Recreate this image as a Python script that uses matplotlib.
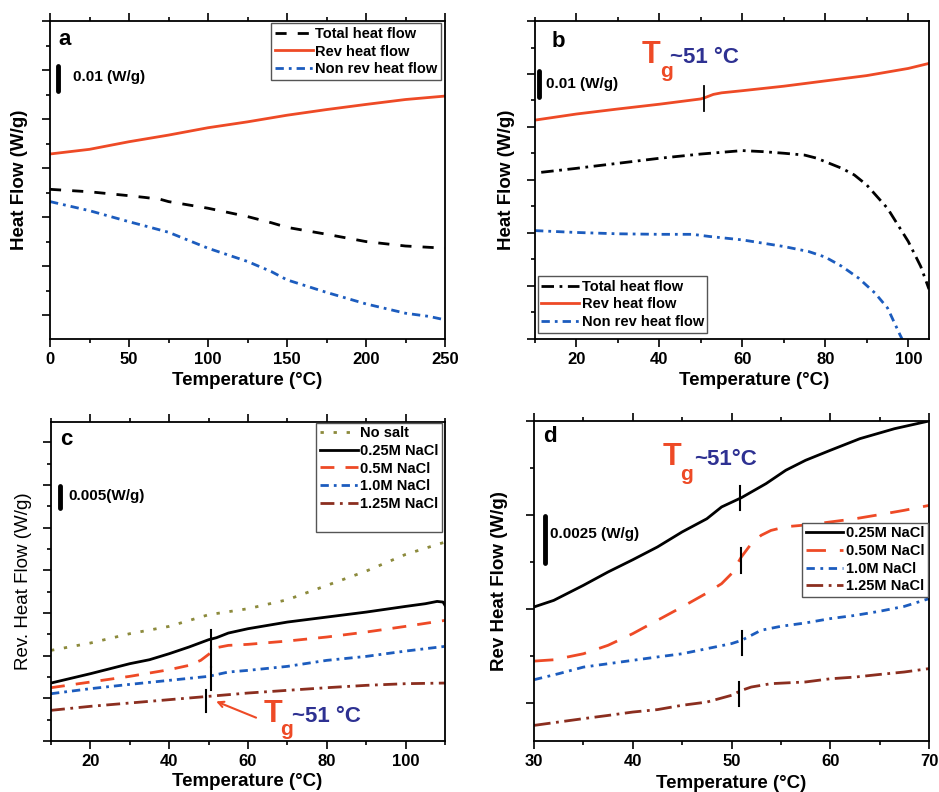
import matplotlib
matplotlib.use("Agg")
import matplotlib.pyplot as plt
from matplotlib.ticker import MultipleLocator, NullFormatter

plt.rcParams['font.family'] = ['Liberation Sans', 'DejaVu Sans']
plt.rcParams['font.weight'] = 'bold'

RED = '#EE4A26'
BLUE = '#1C5CBE'
OLIVE = '#8C8A3C'
BROWN = '#8B2E1F'
NAVY = '#2E3192'

# ---- panel a : heat flow vs temperature (W/g, shifted) ----
a_temp = [0, 25, 50, 75, 100, 125, 150, 175, 200, 225, 250]
a_rev = [0.0858, 0.0877, 0.0908, 0.0935, 0.0965, 0.0989, 0.1016, 0.1039, 0.1060, 0.1080, 0.1094]
a_tot_temp = [0, 25, 50, 60, 70, 75, 100, 125, 140, 150, 175, 200, 225, 250]
a_total = [0.0714, 0.0704, 0.0688, 0.0681, 0.0673, 0.0664, 0.0637, 0.0603, 0.0578, 0.0559,
           0.0531, 0.0501, 0.0483, 0.0474]
a_non_temp = [0, 25, 50, 60, 75, 100, 125, 140, 150, 175, 200, 225, 240, 250]
a_nonrev = [0.0664, 0.0627, 0.0582, 0.0565, 0.0539, 0.0474, 0.0420, 0.0379, 0.0345, 0.0294,
            0.0247, 0.0209, 0.0196, 0.0182]

# ---- panel b ----
b_rev_temp = [10, 20, 30, 40, 50, 51, 53, 55, 60, 70, 80, 90, 100, 105]
b_rev = [0.0826, 0.0849, 0.0868, 0.0886, 0.0906, 0.0911, 0.0923, 0.0929, 0.0937, 0.0954,
         0.0974, 0.0994, 0.1021, 0.1040]
b_tot_temp = [11.5, 20, 22, 30, 40, 50, 60, 65, 70, 75, 78, 80, 84, 87, 90, 95, 100, 103, 105]
b_total = [0.0629, 0.0644, 0.0648, 0.0663, 0.0682, 0.0698, 0.0711, 0.0707, 0.0701, 0.0694,
           0.0682, 0.0669, 0.0644, 0.0619, 0.0581, 0.0493, 0.0368, 0.0274, 0.0188]
b_non_temp = [10, 20, 30, 40, 48, 52, 60, 70, 76, 80, 84, 88, 92, 95, 98, 99]
b_nonrev = [0.0409, 0.0402, 0.0397, 0.0395, 0.0395, 0.0387, 0.0374, 0.0349, 0.0330, 0.0309,
            0.0274, 0.0230, 0.0173, 0.0117, 0.0016, -0.0015]

# ---- panel c : reversing heat flow, salt series ----
c_temp = [10, 20, 30, 40, 50, 60, 70, 80, 90, 100, 110]
c_nosalt = [0.02125, 0.02297, 0.02516, 0.02688, 0.02961, 0.03102, 0.03313, 0.03648, 0.03984,
            0.04375, 0.04664]
c_025_temp = [10, 20, 30, 35, 40, 45, 50, 52, 55, 60, 70, 80, 90, 100, 105, 108, 109.5, 110]
c_025 = [0.01359, 0.01578, 0.01813, 0.01906, 0.02047, 0.02203, 0.02375, 0.02422, 0.02531,
         0.02633, 0.02789, 0.02906, 0.03023, 0.03156, 0.03219, 0.03273, 0.03258, 0.0318]
c_05_temp = [10, 20, 30, 40, 45, 48, 50, 52, 55, 60, 70, 80, 90, 100, 110]
c_05 = [0.0125, 0.01383, 0.01516, 0.01672, 0.01773, 0.01891, 0.02031, 0.02188, 0.02242,
        0.02266, 0.02344, 0.02438, 0.02555, 0.02688, 0.02828]
c_10_temp = [10, 20, 30, 40, 50, 55, 60, 70, 80, 90, 100, 110]
c_10 = [0.01109, 0.01227, 0.01328, 0.01422, 0.01516, 0.01617, 0.01656, 0.0175, 0.01891,
        0.01984, 0.02109, 0.02219]
c_125_temp = [10, 20, 30, 40, 50, 55, 60, 70, 80, 90, 100, 110]
c_125 = [0.00719, 0.00813, 0.00891, 0.00969, 0.01047, 0.01086, 0.01125, 0.01188, 0.0125,
         0.01305, 0.01344, 0.01359]
c_tg_x = [50.6, 50.5, 50.5, 49.4]
c_tg_lo = [0.02164, 0.01734, 0.01188, 0.0068]
c_tg_hi = [0.02594, 0.02164, 0.01734, 0.01188]

# ---- panel d ----
d_025_temp = [30, 32, 35, 37.5, 40, 42.5, 45, 47.5, 49, 51, 53.5, 55.5, 57.5, 60, 63, 66.5, 70]
d_025 = [0.01011, 0.01046, 0.01126, 0.01197, 0.01262, 0.01330, 0.01410, 0.01480, 0.01543,
         0.01592, 0.01667, 0.01738, 0.01791, 0.01844, 0.01906, 0.01959, 0.0200]
d_050_temp = [30, 32, 35, 37.5, 40, 42.5, 45, 47.5, 49, 50, 51, 52, 53, 54, 55, 56, 58, 60,
              62.5, 65, 67.5, 70]
d_050 = [0.00723, 0.0073, 0.00762, 0.00807, 0.00869, 0.0094, 0.01011, 0.01085, 0.01135,
         0.01188, 0.01277, 0.01347, 0.01392, 0.01418, 0.01431, 0.0144, 0.01449, 0.01463,
         0.0148, 0.01502, 0.01525, 0.01551]
d_10_temp = [30, 32.5, 35, 37.5, 40, 42.5, 45, 47.5, 50, 51, 52, 53, 55, 57.5, 60, 62.5, 65,
             67.5, 70]
d_10 = [0.00624, 0.00656, 0.00691, 0.00709, 0.00727, 0.00745, 0.00762, 0.00789, 0.00816,
        0.00833, 0.0086, 0.00887, 0.00908, 0.00926, 0.00949, 0.00966, 0.00988, 0.01014, 0.01055]
d_125_temp = [30, 32.5, 35, 37.5, 40, 42.5, 45, 47.5, 50, 51, 52, 54, 57.5, 60, 62.5, 65,
              67.5, 70]
d_125 = [0.00381, 0.00399, 0.00417, 0.00434, 0.00452, 0.00465, 0.00488, 0.00505, 0.00541,
         0.00567, 0.00585, 0.00603, 0.00612, 0.00629, 0.00638, 0.00652, 0.00665, 0.00683]
d_tg_x = [50.9, 51.0, 51.1, 50.8]
d_tg_lo = [0.01528, 0.01193, 0.00754, 0.00482]
d_tg_hi = [0.01652, 0.01324, 0.00881, 0.00612]

LW = 2.0
W, H = 939, 792
fig = plt.figure(figsize=(W / 100, H / 100), dpi=100)


def make_ax(left, right, top, bottom):
    ax = fig.add_axes([left / W, 1 - bottom / H, (right - left) / W, (bottom - top) / H])
    ax.tick_params(which='both', direction='out', top=True, right=False,
                   labelleft=False, labelsize=12, width=1.2, pad=4)
    ax.tick_params(which='major', length=5.5)
    ax.tick_params(which='minor', length=3)
    ax.yaxis.set_minor_formatter(NullFormatter())
    for sp in ax.spines.values():
        sp.set_linewidth(1.3)
    return ax


def style_legend(leg):
    leg.get_frame().set_edgecolor('#555555')
    leg.get_frame().set_linewidth(1.0)


def scale_bar(ax, x, y0, y1, text, tx, ty):
    ax.plot([x, x], [y0, y1], color='black', lw=3.5, solid_capstyle='round')
    ax.text(tx, ty, text, fontsize=11, fontweight='bold', va='center', ha='left')


def tg_label(ax, xt, yt, xg, yg, xs, txt, big=22):
    ax.text(xt, yt, 'T', color=RED, fontsize=big, fontweight='bold', va='baseline')
    ax.text(xg, yg, 'g', color=RED, fontsize=15, fontweight='bold', va='baseline')
    ax.text(xs, yt, txt, color=NAVY, fontsize=16, fontweight='bold', va='baseline')


leg_kw = dict(frameon=True, fancybox=False, framealpha=1,
              borderaxespad=0, handlelength=2.6, handletextpad=0.15,
              labelspacing=0.25, borderpad=0.25, prop={'weight': 'bold', 'size': 10.5})

# ---------------- panel a ----------------
ax = make_ax(50, 445, 21, 339)
ax.plot(a_tot_temp, a_total, color='black', lw=LW, ls=(0, (4, 4)), label='Total heat flow')
ax.plot(a_temp, a_rev, color=RED, lw=LW, label='Rev heat flow')
ax.plot(a_non_temp, a_nonrev, color=BLUE, lw=LW, ls=(0, (3, 1.8, 1, 1.8)), label='Non rev heat flow')
ax.set_xlim(0, 250)
ax.set_ylim(0.0104, 0.14)
ax.xaxis.set_major_locator(MultipleLocator(50))
ax.xaxis.set_minor_locator(MultipleLocator(25))
ax.yaxis.set_major_locator(MultipleLocator(0.02))
ax.yaxis.set_minor_locator(MultipleLocator(0.01))
ax.set_xlabel('Temperature (°C)', fontsize=13.5, fontweight='bold')
ax.set_ylabel('Heat Flow (W/g)', fontsize=13.5, fontweight='bold')
ax.xaxis.set_label_coords(0.5, -0.105)
ax.yaxis.set_label_coords(-0.056, 0.5)
ax.text(5.3, 0.1301, 'a', fontsize=16, fontweight='bold')
scale_bar(ax, 5.3, 0.1115, 0.1215, '0.01 (W/g)', 14.3, 0.1172)
style_legend(ax.legend(loc='upper right', bbox_to_anchor=(0.989, 0.993), **leg_kw))

# ---------------- panel b ----------------
ax = make_ax(535, 929, 21, 339)
ax.plot(b_tot_temp, b_total, color='black', lw=LW, ls=(0, (4.5, 2, 1, 2)), label='Total heat flow')
ax.plot(b_rev_temp, b_rev, color=RED, lw=LW, label='Rev heat flow')
ax.plot(b_non_temp, b_nonrev, color=BLUE, lw=LW, ls=(0, (3, 1.8, 1, 1.8)), label='Non rev heat flow')
ax.plot([50.8, 50.8], [0.0861, 0.0954], color='black', lw=1.3)
ax.set_xlim(10, 105)
ax.set_ylim(0, 0.12)
ax.xaxis.set_major_locator(MultipleLocator(20))
ax.xaxis.set_minor_locator(MultipleLocator(10))
ax.yaxis.set_major_locator(MultipleLocator(0.02))
ax.yaxis.set_minor_locator(MultipleLocator(0.01))
ax.set_xlabel('Temperature (°C)', fontsize=13.5, fontweight='bold')
ax.set_ylabel('Heat Flow (W/g)', fontsize=13.5, fontweight='bold')
ax.xaxis.set_label_coords(0.556, -0.103)
ax.yaxis.set_label_coords(-0.051, 0.5)
ax.text(14.0, 0.1102, 'b', fontsize=16, fontweight='bold')
scale_bar(ax, 11.05, 0.0913, 0.1013, '0.01 (W/g)', 12.6, 0.0964)
tg_label(ax, 35.7, 0.1042, 40.1, 0.0987, 42.5, '~51 °C')
style_legend(ax.legend(loc='lower left', bbox_to_anchor=(0.007, 0.02), **leg_kw))

# ---------------- panel c ----------------
ax = make_ax(51, 445, 422, 741)
ax.plot(c_temp, c_nosalt, color=OLIVE, lw=LW, ls=(0, (1.2, 3.5)), label='No salt')
ax.plot(c_025_temp, c_025, color='black', lw=LW, label='0.25M NaCl')
ax.plot(c_05_temp, c_05, color=RED, lw=LW, ls=(0, (5, 4)), label='0.5M NaCl')
ax.plot(c_10_temp, c_10, color=BLUE, lw=LW, ls=(0, (3, 1.8, 1, 1.8)), label='1.0M NaCl')
ax.plot(c_125_temp, c_125, color=BROWN, lw=LW, ls=(0, (5, 2, 1, 2)), label='1.25M NaCl')
ax.plot([], [], color='none', label=' ')
for x, lo, hi in zip(c_tg_x, c_tg_lo, c_tg_hi):
    ax.plot([x, x], [lo, hi], color='black', lw=1.5)
ax.annotate('', xy=(51.25, 0.00953), xytext=(62.7, 0.00523),
            arrowprops=dict(arrowstyle='->', color=RED, lw=1.5))
ax.set_xlim(10, 110)
ax.set_ylim(0, 0.0748)
ax.xaxis.set_major_locator(MultipleLocator(20))
ax.xaxis.set_minor_locator(MultipleLocator(10))
ax.yaxis.set_major_locator(MultipleLocator(0.01))
ax.yaxis.set_minor_locator(MultipleLocator(0.005))
ax.set_xlabel('Temperature (°C)', fontsize=13.5, fontweight='bold')
ax.set_ylabel('Rev. Heat Flow (W/g)', fontsize=13.5, fontweight='normal')
ax.xaxis.set_label_coords(0.497, -0.099)
ax.yaxis.set_label_coords(-0.048, 0.5)
ax.text(12.2, 0.0693, 'c', fontsize=16, fontweight='bold')
scale_bar(ax, 12.4, 0.0547, 0.0597, '0.005(W/g)', 14.3, 0.0574)
tg_label(ax, 63.9, 0.00445, 68.2, 0.00133, 71.2, '~51 °C')
style_legend(ax.legend(loc='upper right', bbox_to_anchor=(0.993, 0.998), **leg_kw))

# ---------------- panel d ----------------
ax = make_ax(534, 929, 421, 741)
ax.plot(d_025_temp, d_025, color='black', lw=LW, label='0.25M NaCl')
ax.plot(d_050_temp, d_050, color=RED, lw=LW, ls=(0, (7, 5)), label='0.50M NaCl')
ax.plot(d_10_temp, d_10, color=BLUE, lw=LW, ls=(0, (3, 2, 1, 2)), label='1.0M NaCl')
ax.plot(d_125_temp, d_125, color=BROWN, lw=LW, ls=(0, (6, 2, 1, 2)), label='1.25M NaCl')
for x, lo, hi in zip(d_tg_x, d_tg_lo, d_tg_hi):
    ax.plot([x, x], [lo, hi], color='black', lw=1.5)
ax.set_xlim(30, 70)
ax.set_ylim(0.00298, 0.020)
ax.xaxis.set_major_locator(MultipleLocator(10))
ax.xaxis.set_minor_locator(MultipleLocator(5))
ax.yaxis.set_major_locator(MultipleLocator(0.005))
ax.yaxis.set_minor_locator(MultipleLocator(0.0025))
ax.set_xlabel('Temperature (°C)', fontsize=13.5, fontweight='bold')
ax.set_ylabel('Rev Heat Flow (W/g)', fontsize=13.5, fontweight='bold')
ax.xaxis.set_label_coords(0.5, -0.106)
ax.yaxis.set_label_coords(-0.066, 0.5)
ax.text(30.9, 0.01888, 'd', fontsize=16, fontweight='bold')
scale_bar(ax, 31.15, 0.01243, 0.01493, '0.0025 (W/g)', 31.6, 0.01401)
tg_label(ax, 43.07, 0.01764, 44.8, 0.01688, 46.2, '~51°C')
style_legend(ax.legend(loc='upper right', bbox_to_anchor=(0.997, 0.682), **leg_kw))

fig.savefig('out.png', dpi=100)
